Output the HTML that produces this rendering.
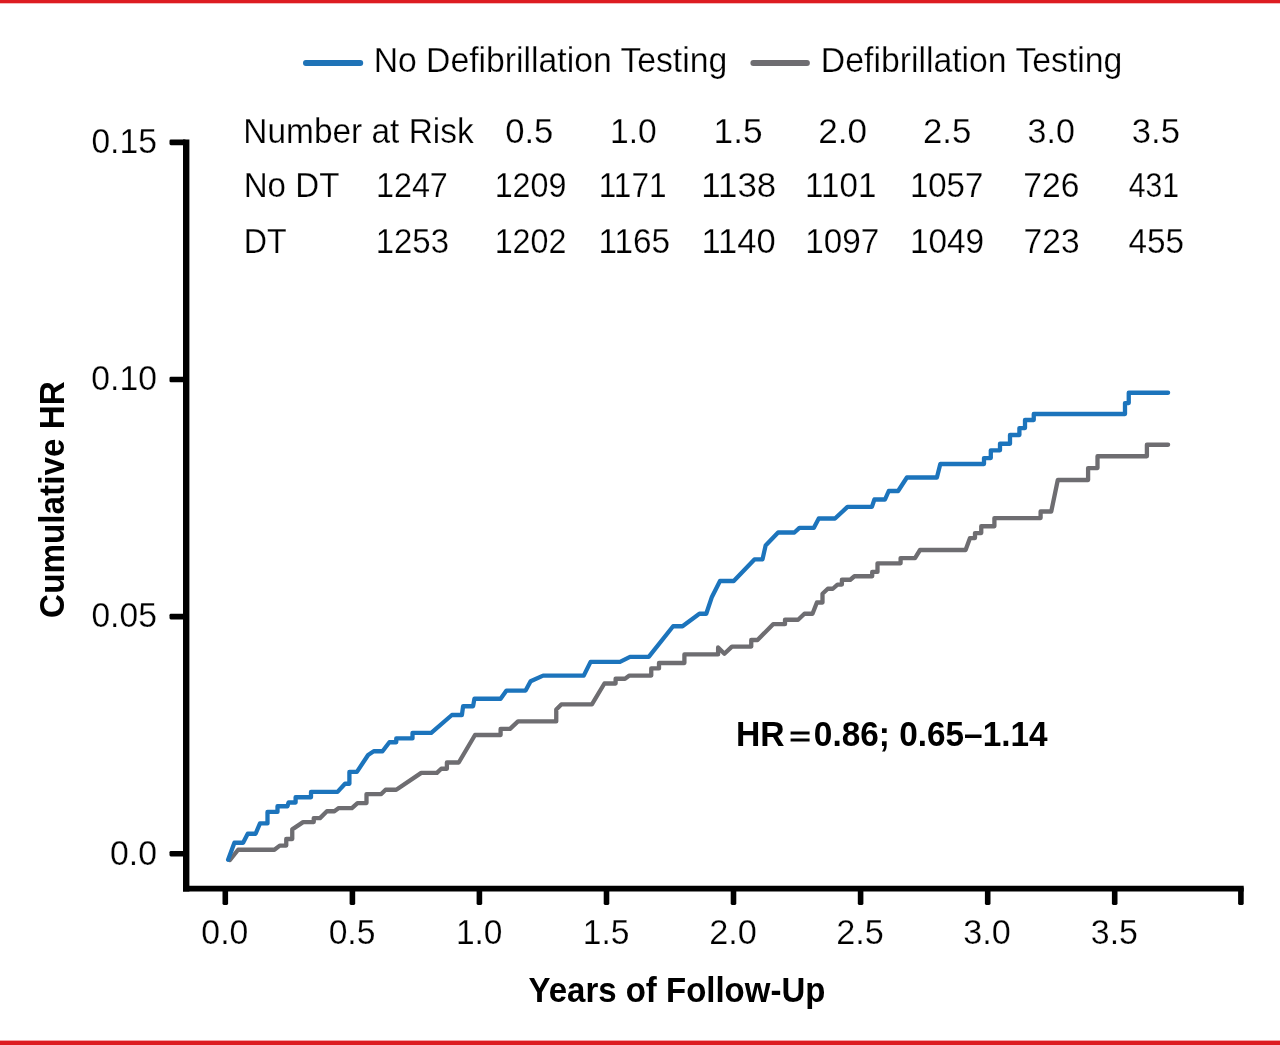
<!DOCTYPE html>
<html lang="en">
<head>
<meta charset="utf-8">
<title>Cumulative HR by Defibrillation Testing</title>
<style>
html,body{margin:0;padding:0;background:#fff;}
body{width:1280px;height:1045px;overflow:hidden;}
svg{display:block;}
text{font-family:"Liberation Sans",Arial,Helvetica,sans-serif;fill:#000;}
.r{font-size:35px;stroke:#fff;stroke-width:0.25px;}
.d{font-size:34.4px;stroke:#fff;stroke-width:0.25px;}
.b{font-size:35.3px;font-weight:bold;}
.e{font-size:35.3px;stroke:#000;stroke-width:1.35px;}
</style>
</head>
<body>
<svg width="1280" height="1045" viewBox="0 0 1280 1045">
<rect x="0" y="0" width="1280" height="1045" fill="#fff"/>
<rect x="0" y="0" width="1280" height="3.3" fill="#dd1c21"/>
<rect x="0" y="1040.6" width="1280" height="4.4" fill="#dd1c21"/>
<line x1="305.9" y1="63" x2="360.3" y2="63" stroke="#1f73b7" stroke-width="5.8" stroke-linecap="round"/>
<line x1="753.3" y1="63" x2="807" y2="63" stroke="#6e6d71" stroke-width="5.8" stroke-linecap="round"/>
<g stroke="#000" fill="none">
<line x1="186.2" y1="139.6" x2="186.2" y2="891.5" stroke-width="6.4"/>
<line x1="183" y1="888.6" x2="1243.7" y2="888.6" stroke-width="5.8"/>
<rect x="169.5" y="139.6" width="16.5" height="5.6" rx="1.4" fill="#000" stroke="none"/>
<rect x="169.5" y="376.7" width="16.5" height="5.6" rx="1.4" fill="#000" stroke="none"/>
<rect x="169.5" y="613.8" width="16.5" height="5.6" rx="1.4" fill="#000" stroke="none"/>
<rect x="169.5" y="850.9" width="16.5" height="5.6" rx="1.4" fill="#000" stroke="none"/>
<rect x="222.5" y="887" width="5.6" height="18" rx="1.4" fill="#000" stroke="none"/>
<rect x="349.6" y="887" width="5.6" height="18" rx="1.4" fill="#000" stroke="none"/>
<rect x="476.6" y="887" width="5.6" height="18" rx="1.4" fill="#000" stroke="none"/>
<rect x="603.7" y="887" width="5.6" height="18" rx="1.4" fill="#000" stroke="none"/>
<rect x="730.7" y="887" width="5.6" height="18" rx="1.4" fill="#000" stroke="none"/>
<rect x="857.8" y="887" width="5.6" height="18" rx="1.4" fill="#000" stroke="none"/>
<rect x="984.9" y="887" width="5.6" height="18" rx="1.4" fill="#000" stroke="none"/>
<rect x="1111.9" y="887" width="5.6" height="18" rx="1.4" fill="#000" stroke="none"/>
<rect x="1238.1" y="887" width="5.6" height="18" rx="1.4" fill="#000" stroke="none"/>
</g>
<text class="r" x="373.64" y="72.0" textLength="353.61" lengthAdjust="spacingAndGlyphs">No Defibrillation Testing</text>
<text class="r" x="820.83" y="72.0" textLength="301.57" lengthAdjust="spacingAndGlyphs">Defibrillation Testing</text>
<text class="r" x="243.33" y="143.0" textLength="230.35" lengthAdjust="spacingAndGlyphs">Number at Risk</text>
<text class="r" x="243.67" y="197.4" textLength="95.72" lengthAdjust="spacingAndGlyphs">No DT</text>
<text class="r" x="243.82" y="252.7" textLength="42.94" lengthAdjust="spacingAndGlyphs">DT</text>
<text class="d" x="375.92" y="197.4" textLength="71.96" lengthAdjust="spacingAndGlyphs">1247</text>
<text class="d" x="375.74" y="252.7" textLength="73.24" lengthAdjust="spacingAndGlyphs">1253</text>
<text class="d" x="505.21" y="143.0" textLength="48.12" lengthAdjust="spacingAndGlyphs">0.5</text>
<text class="d" x="494.64" y="197.4" textLength="71.71" lengthAdjust="spacingAndGlyphs">1209</text>
<text class="d" x="494.64" y="252.7" textLength="71.71" lengthAdjust="spacingAndGlyphs">1202</text>
<text class="d" x="610.08" y="143.0" textLength="46.68" lengthAdjust="spacingAndGlyphs">1.0</text>
<text class="d" x="598.70" y="197.4" textLength="67.75" lengthAdjust="spacingAndGlyphs">1171</text>
<text class="d" x="598.40" y="252.7" textLength="71.62" lengthAdjust="spacingAndGlyphs">1165</text>
<text class="d" x="713.64" y="143.0" textLength="49.04" lengthAdjust="spacingAndGlyphs">1.5</text>
<text class="d" x="701.27" y="197.4" textLength="75.00" lengthAdjust="spacingAndGlyphs">1138</text>
<text class="d" x="701.45" y="252.7" textLength="74.18" lengthAdjust="spacingAndGlyphs">1140</text>
<text class="d" x="818.28" y="143.0" textLength="48.79" lengthAdjust="spacingAndGlyphs">2.0</text>
<text class="d" x="805.10" y="197.4" textLength="71.29" lengthAdjust="spacingAndGlyphs">1101</text>
<text class="d" x="805.20" y="252.7" textLength="74.07" lengthAdjust="spacingAndGlyphs">1097</text>
<text class="d" x="923.02" y="143.0" textLength="48.27" lengthAdjust="spacingAndGlyphs">2.5</text>
<text class="d" x="909.96" y="197.4" textLength="73.35" lengthAdjust="spacingAndGlyphs">1057</text>
<text class="d" x="909.91" y="252.7" textLength="74.27" lengthAdjust="spacingAndGlyphs">1049</text>
<text class="d" x="1027.62" y="143.0" textLength="47.33" lengthAdjust="spacingAndGlyphs">3.0</text>
<text class="d" x="1023.34" y="197.4" textLength="56.12" lengthAdjust="spacingAndGlyphs">726</text>
<text class="d" x="1023.61" y="252.7" textLength="55.91" lengthAdjust="spacingAndGlyphs">723</text>
<text class="d" x="1131.79" y="143.0" textLength="48.16" lengthAdjust="spacingAndGlyphs">3.5</text>
<text class="d" x="1128.74" y="197.4" textLength="50.38" lengthAdjust="spacingAndGlyphs">431</text>
<text class="d" x="1128.58" y="252.7" textLength="55.49" lengthAdjust="spacingAndGlyphs">455</text>
<text class="d" x="91.41" y="153.2" textLength="65.42" lengthAdjust="spacingAndGlyphs">0.15</text>
<text class="d" x="91.32" y="390.3" textLength="65.57" lengthAdjust="spacingAndGlyphs">0.10</text>
<text class="d" x="91.41" y="627.4" textLength="65.42" lengthAdjust="spacingAndGlyphs">0.05</text>
<text class="d" x="110.02" y="864.5" textLength="46.98" lengthAdjust="spacingAndGlyphs">0.0</text>
<text class="b" x="528.55" y="1002.0" textLength="296.81" lengthAdjust="spacingAndGlyphs">Years of Follow-Up</text>
<text class="b" x="736.00" y="746.3" textLength="48.64" lengthAdjust="spacingAndGlyphs">HR</text>
<text class="e" transform="translate(0,745.9) scale(1,0.78)" x="789.43" y="0" textLength="21.20" lengthAdjust="spacingAndGlyphs">=</text>
<text class="b" x="813.83" y="746.3" textLength="233.75" lengthAdjust="spacingAndGlyphs">0.86; 0.65–1.14</text>
<text class="d" x="201.35" y="943.9" textLength="47.03" lengthAdjust="spacingAndGlyphs">0.0</text>
<text class="d" x="328.65" y="943.9" textLength="46.72" lengthAdjust="spacingAndGlyphs">0.5</text>
<text class="d" x="455.91" y="943.9" textLength="46.61" lengthAdjust="spacingAndGlyphs">1.0</text>
<text class="d" x="582.87" y="943.9" textLength="46.68" lengthAdjust="spacingAndGlyphs">1.5</text>
<text class="d" x="709.13" y="943.9" textLength="47.63" lengthAdjust="spacingAndGlyphs">2.0</text>
<text class="d" x="836.20" y="943.9" textLength="47.60" lengthAdjust="spacingAndGlyphs">2.5</text>
<text class="d" x="963.37" y="943.9" textLength="47.51" lengthAdjust="spacingAndGlyphs">3.0</text>
<text class="d" x="1090.84" y="943.9" textLength="47.11" lengthAdjust="spacingAndGlyphs">3.5</text>
<text class="b" transform="translate(64.3,499.6) rotate(-90)" x="-118.30" y="0" textLength="236.60" lengthAdjust="spacingAndGlyphs">Cumulative HR</text>
<polyline points="230,860 238.1,849.75 274.4,849.75 279.75,845.6 286.25,845.6 286.25,839 292.25,839 292.25,829.4 303.1,822.1 313.75,822.1 313.75,818.1 320,818.1 326.9,811.25 334.4,811.25 338.75,808.1 351.9,808.1 357.5,803.1 366.5,803.1 366.5,794.1 381.25,794.1 385.6,789.75 396.25,789.75 421.25,772.9 436.9,772.9 441.25,768.75 446.9,768.75 446.9,762.5 458.75,762.5 475,735 500.6,735 500.6,728.9 510,728.9 518,721.4 556.25,721.4 556.25,709.4 561.25,704.4 591.9,704.4 604.4,683.5 615.6,683.5 615.6,678.75 625,678.75 629.4,675.6 651.25,675.6 651.25,668.4 659,668.4 659,663 684.4,663 684.4,654.4 718.1,654.4 718.1,647.5 724.4,653.75 731.9,646.6 751.25,646.6 751.25,640 757.5,640 773.1,624.2 785,624.2 785,619.75 798.1,619.75 804.4,613.75 812.5,613.75 816.9,602.5 822.5,602.5 822.5,593.75 827.8,588.75 832.8,588.75 837.5,584.6 841.9,584.6 841.9,579.75 850.3,579.75 854.4,576.25 872.2,576.25 872.2,571.9 877.5,571.9 877.5,563.3 900.6,563.3 900.6,558.1 915,558.1 920,550 965.6,550 970,538.1 975,538.1 975,533.1 981.25,533.1 981.25,526.25 994.4,526.25 994.4,518.1 1040.6,518.1 1040.6,511.5 1051.25,511.5 1057.8,480 1088.1,480 1088.1,468.1 1097.5,468.1 1097.5,456.25 1146.9,456.25 1146.9,444.75 1168.1,444.75" fill="none" stroke="#6e6d71" stroke-width="4.3" stroke-linejoin="round" stroke-linecap="round"/>
<polyline points="228.1,859.75 234.4,842.75 243.1,842.75 247.75,833.75 255.6,833.75 260,823.4 267.5,823.4 267.5,811.9 277.5,811.9 277.5,806.25 287.5,806.25 288.5,802.5 295.6,802.5 295.6,797.25 311,797.25 311,791.9 337.5,791.9 345,783.75 349.4,783.75 349.4,771.9 356.9,771.9 368.1,755 373.75,751.25 382.5,751.25 389.4,742.25 396.25,742.25 396.25,738.4 412.5,738.4 412.5,732.9 431.25,732.9 451.9,715 461.9,715 463.1,706.25 473.1,706.25 474.4,698.75 500.6,698.75 506.5,690.6 525.6,690.6 530.6,681.25 543.1,675.6 583.75,675.6 590.6,661.9 620,661.9 630,656.9 648.75,656.9 673.1,626.25 682.5,626.25 699.4,613.75 706.25,613.75 711.9,596.9 720,581 733.75,581 754.4,559.4 762.5,559.4 765.6,545.6 778.1,532.5 794.4,532.5 799.4,527.9 813.75,527.9 818.75,518.5 835,518.5 847.5,506.9 871.9,506.9 874.4,499.5 885,499.5 888.75,491 898.1,491 906.9,477.5 936.9,477.5 940.3,464 984,464 984,458.1 990.8,458.1 990.8,450.3 1000,450.3 1000,443.75 1010,443.75 1010,435 1019.4,435 1019.4,428.1 1025,428.1 1025,420 1033.75,420 1033.75,414 1125,414 1125,403.1 1128.75,403.1 1128.75,392.75 1168.1,392.75" fill="none" stroke="#1c74bc" stroke-width="4.3" stroke-linejoin="round" stroke-linecap="round"/>
</svg>
</body>
</html>
